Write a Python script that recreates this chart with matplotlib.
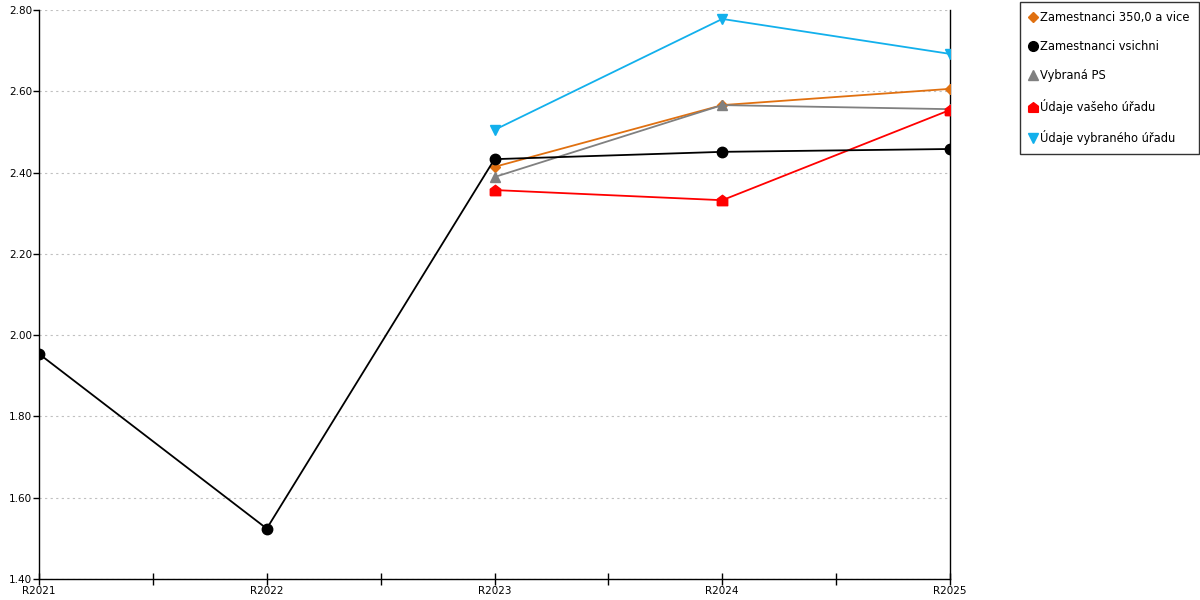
import matplotlib
matplotlib.use("Agg")
import matplotlib.pyplot as plt
from matplotlib.ticker import MultipleLocator, FormatStrFormatter

plt.rcParams['font.family'] = ['DejaVu Sans']
plt.rcParams['font.size'] = 7.5

years = ["R2021", "R2022", "R2023", "R2024", "R2025"]

zam_350 = [None, None, 2.414, 2.566, 2.606]
zam_all = [1.954, 1.524, 2.433, 2.451, 2.458]
vybrana_ps = [None, None, 2.389, 2.566, 2.556]
vas_urad = [None, None, 2.357, 2.332, 2.554]
vybrany_urad = [None, None, 2.505, 2.778, 2.692]

house = [(-1, -1), (1, -1), (1, 0.25), (0, 1), (-1, 0.25), (-1, -1)]

series = [
    ("Zamestnanci 350,0 a vice", zam_350, "#e07010", "D", 5.5),
    ("Zamestnanci vsichni", zam_all, "#000000", "o", 7.5),
    ("Vybraná PS", vybrana_ps, "#808080", "^", 7.5),
    ("Údaje vašeho úřadu", vas_urad, "#ff0000", house, 7.5),
    ("Údaje vybraného úřadu", vybrany_urad, "#12b0ec", "v", 7.5),
]

fig = plt.figure(figsize=(12, 6), dpi=100)
ax = fig.add_axes([39/1200, 21/600, 911/1200, 569/600])

# black line first so the others sit on top of it
order = [1, 4, 0, 2, 3]
for i in order:
    name, vals, col, mk, ms = series[i]
    xs = [k for k, v in enumerate(vals) if v is not None]
    ys = [v for v in vals if v is not None]
    ax.plot(xs, ys, color=col, lw=1.3, marker=mk, ms=ms, zorder=3 + (i == 1) * 0.5)

ax.set_xlim(0, 4)
ax.set_ylim(1.4, 2.8)
ax.yaxis.set_major_locator(MultipleLocator(0.2))
ax.yaxis.set_major_formatter(FormatStrFormatter("%.2f"))
ax.set_xticks([0, 0.5, 1, 1.5, 2, 2.5, 3, 3.5, 4])
ax.set_xticklabels(["R2021", "", "R2022", "", "R2023", "", "R2024", "", "R2025"])
ax.tick_params(axis='x', direction='inout', length=8, width=1, pad=1)
ax.tick_params(axis='y', direction='out', length=4, width=1, pad=1)
ax.grid(axis='y', linestyle=(0, (2, 3)), color='#c0c0c0', lw=0.8)
ax.spines['top'].set_visible(False)
for s in ['left', 'bottom', 'right']:
    ax.spines[s].set_linewidth(1.0)

handles = []
for name, vals, col, mk, ms in series:
    h, = ax.plot([], [], ls='none', marker=mk, color=col, ms=7 if mk != "D" else 5.5, label=name)
    handles.append(h)
leg = fig.legend(handles=handles, loc='upper right', bbox_to_anchor=(1199/1200, 1 - 2/600),
                 frameon=True, fancybox=False, edgecolor='black', fontsize=8.3,
                 labelspacing=1.4, handletextpad=0.35, borderpad=0.8, handlelength=0.6,
                 borderaxespad=0)
leg.get_frame().set_linewidth(1.0)

fig.savefig("out.png", dpi=100)
